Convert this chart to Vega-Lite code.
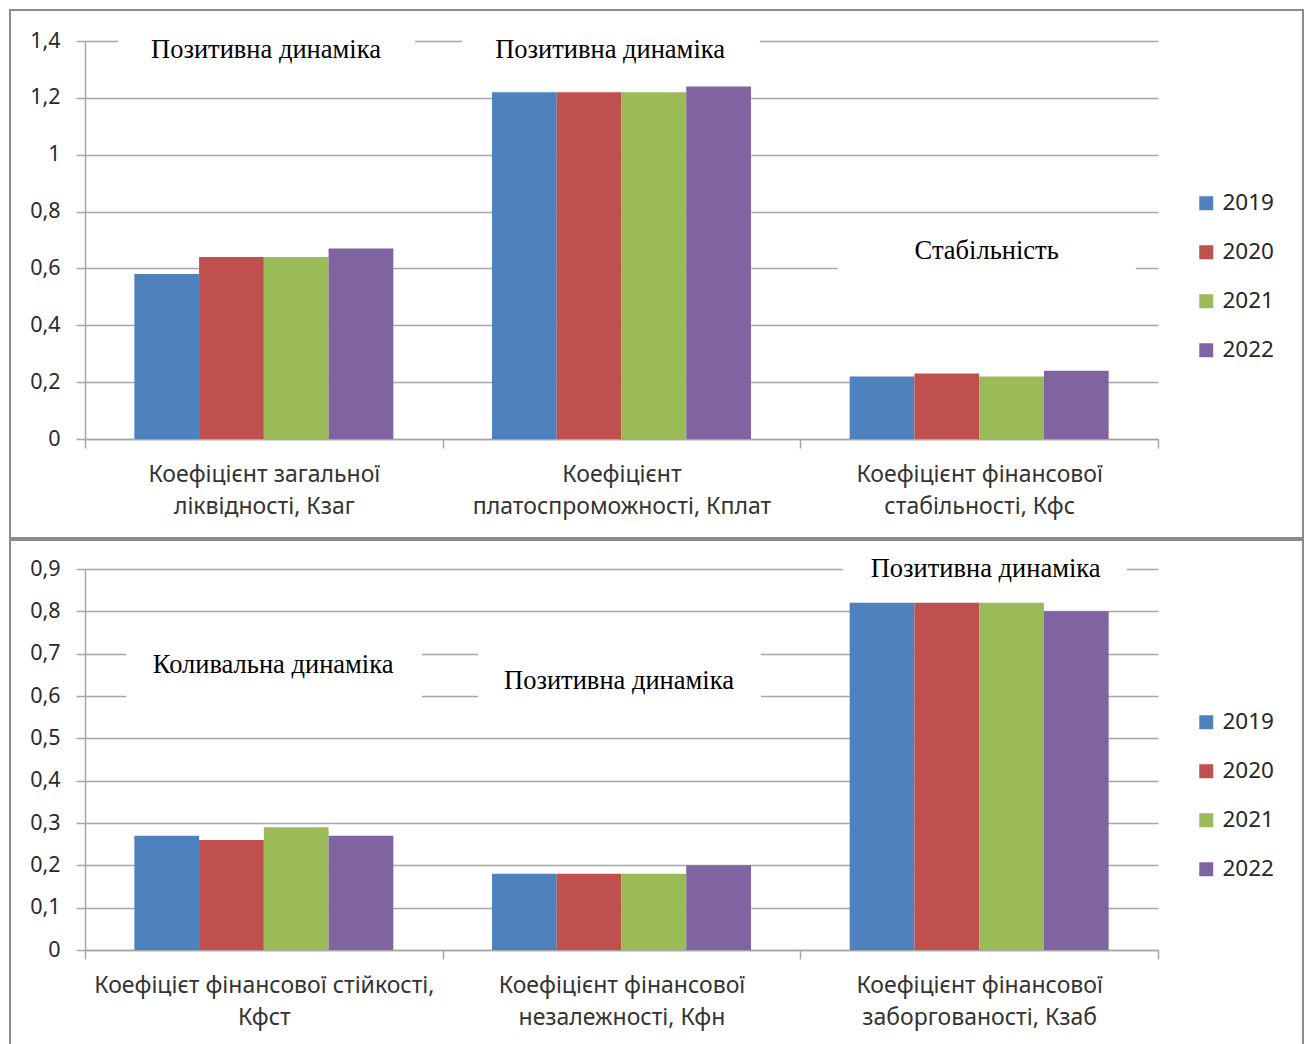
{
  "$schema": "https://vega.github.io/schema/vega-lite/v6.json",
  "background": "white",
  "padding": {"left": 8, "top": 9, "right": 0, "bottom": 0},
  "autosize": {"type": "pad"},
  "spacing": 0,
  "config": {
    "view": {"stroke": null},
    "axis": {
      "domainColor": "#a6a6a6",
      "domainWidth": 1.5,
      "tickColor": "#a6a6a6",
      "tickWidth": 1.5,
      "gridColor": "#a6a6a6",
      "gridWidth": 1.5,
      "labelFont": "Noto Sans",
      "labelColor": "#2b2b2b",
      "labelLimit": 0,
      "title": null
    },
    "legend": {
      "orient": "none",
      "title": null,
      "padding": 0,
      "symbolType": "square",
      "symbolSize": 196,
      "symbolStrokeWidth": 0,
      "labelFont": "Noto Sans",
      "labelFontSize": 22.5,
      "labelColor": "#262626",
      "labelOffset": 5,
      "rowPadding": 26
    }
  },
  "resolve": {"legend": {"color": "independent"}},
  "datasets": {
    "top": [
      {"k": "Коефіцієнт загальної\nліквідності, Кзаг", "year": "2019", "v": 0.58},
      {"k": "Коефіцієнт загальної\nліквідності, Кзаг", "year": "2020", "v": 0.64},
      {"k": "Коефіцієнт загальної\nліквідності, Кзаг", "year": "2021", "v": 0.64},
      {"k": "Коефіцієнт загальної\nліквідності, Кзаг", "year": "2022", "v": 0.67},
      {"k": "Коефіцієнт\nплатоспроможності, Кплат", "year": "2019", "v": 1.22},
      {"k": "Коефіцієнт\nплатоспроможності, Кплат", "year": "2020", "v": 1.22},
      {"k": "Коефіцієнт\nплатоспроможності, Кплат", "year": "2021", "v": 1.22},
      {"k": "Коефіцієнт\nплатоспроможності, Кплат", "year": "2022", "v": 1.24},
      {"k": "Коефіцієнт фінансової\nстабільності, Кфс", "year": "2019", "v": 0.22},
      {"k": "Коефіцієнт фінансової\nстабільності, Кфс", "year": "2020", "v": 0.23},
      {"k": "Коефіцієнт фінансової\nстабільності, Кфс", "year": "2021", "v": 0.22},
      {"k": "Коефіцієнт фінансової\nстабільності, Кфс", "year": "2022", "v": 0.24}
    ],
    "bottom": [
      {"k": "Коефіцієт фінансової стійкості,\nКфст", "year": "2019", "v": 0.27},
      {"k": "Коефіцієт фінансової стійкості,\nКфст", "year": "2020", "v": 0.26},
      {"k": "Коефіцієт фінансової стійкості,\nКфст", "year": "2021", "v": 0.29},
      {"k": "Коефіцієт фінансової стійкості,\nКфст", "year": "2022", "v": 0.27},
      {"k": "Коефіцієнт фінансової\nнезалежності, Кфн", "year": "2019", "v": 0.18},
      {"k": "Коефіцієнт фінансової\nнезалежності, Кфн", "year": "2020", "v": 0.18},
      {"k": "Коефіцієнт фінансової\nнезалежності, Кфн", "year": "2021", "v": 0.18},
      {"k": "Коефіцієнт фінансової\nнезалежності, Кфн", "year": "2022", "v": 0.2},
      {"k": "Коефіцієнт фінансової\nзаборгованості, Кзаб", "year": "2019", "v": 0.82},
      {"k": "Коефіцієнт фінансової\nзаборгованості, Кзаб", "year": "2020", "v": 0.82},
      {"k": "Коефіцієнт фінансової\nзаборгованості, Кзаб", "year": "2021", "v": 0.82},
      {"k": "Коефіцієнт фінансової\nзаборгованості, Кзаб", "year": "2022", "v": 0.8}
    ],
    "notesTop": [
      {"note": "Позитивна динаміка", "x": 0.506, "y": 1.368, "x0": 0.092, "x1": 0.923, "y0": 1.28, "y1": 1.45},
      {"note": "Позитивна динаміка", "x": 1.468, "y": 1.368, "x0": 1.054, "x1": 1.887, "y0": 1.28, "y1": 1.45},
      {"note": "Стабільність", "x": 2.521, "y": 0.661, "x0": 2.105, "x1": 2.938, "y0": 0.489, "y1": 0.753}
    ],
    "notesBottom": [
      {"note": "Коливальна динаміка", "x": 0.526, "y": 0.673, "x0": 0.115, "x1": 0.942, "y0": 0.595, "y1": 0.705},
      {"note": "Позитивна динаміка", "x": 1.493, "y": 0.635, "x0": 1.099, "x1": 1.89, "y0": 0.565, "y1": 0.705},
      {"note": "Позитивна динаміка", "x": 2.518, "y": 0.9, "x0": 2.119, "x1": 2.913, "y0": 0.855, "y1": 0.945}
    ]
  },
  "vconcat": [
    {
      "width": 1073,
      "height": 398,
      "resolve": {"scale": {"x": "independent"}},
      "layer": [
        {
          "data": {"values": [{"panel": "frame"}]},
          "mark": {"type": "rect", "fillOpacity": 0, "stroke": "#8c8c8c", "strokeWidth": 2},
          "encoding": {
            "x": {"datum": -0.2097, "type": "quantitative", "scale": {"domain": [0, 3], "nice": false, "zero": false}, "axis": null},
            "x2": {"datum": 3.4054},
            "y": {"datum": 1.509, "type": "quantitative"},
            "y2": {"datum": -0.348}
          }
        },
        {
          "data": {"name": "top"},
          "mark": {"type": "bar"},
          "encoding": {
            "x": {
              "field": "k", "type": "nominal", "sort": null,
              "scale": {"paddingInner": 0, "paddingOuter": 0},
              "axis": {
                "labelAngle": 0, "labelFontSize": 23, "labelColor": "#333333",
                "labelLineHeight": 32, "labelPadding": 15, "tickBand": "extent",
                "tickSize": 9, "labelExpr": "split(datum.label, '\\n')"
              }
            },
            "xOffset": {"field": "year", "type": "nominal", "scale": {"paddingInner": 0, "paddingOuter": 0.762}},
            "y": {
              "field": "v", "type": "quantitative",
              "scale": {"domain": [0, 1.4], "nice": false},
              "axis": {
                "grid": true,
                "values": [0, 0.2, 0.4, 0.6, 0.8, 1, 1.2, 1.4],
                "labelFontSize": 21.5, "tickSize": 9, "labelPadding": 16,
                "labelExpr": "replace(format(datum.value, '.1~f'), '.', ',')"
              }
            },
            "color": {
              "field": "year", "type": "nominal",
              "scale": {"domain": ["2019", "2020", "2021", "2022"], "range": ["#4f81bd", "#c0504d", "#9bbb59", "#8064a2"]},
              "legend": {"legendX": 1110, "legendY": 151}
            }
          }
        },
        {
          "data": {"name": "notesTop"},
          "mark": {"type": "rect", "fill": "white"},
          "encoding": {
            "x": {"field": "x0", "type": "quantitative", "scale": {"domain": [0, 3], "nice": false, "zero": false}, "axis": null},
            "x2": {"field": "x1"},
            "y": {"field": "y0", "type": "quantitative"},
            "y2": {"field": "y1"}
          }
        },
        {
          "data": {"name": "notesTop"},
          "mark": {"type": "text", "font": "Liberation Serif", "fontSize": 26.5, "color": "#000000", "align": "center", "baseline": "middle"},
          "encoding": {
            "x": {"field": "x", "type": "quantitative", "scale": {"domain": [0, 3], "nice": false, "zero": false}, "axis": null},
            "y": {"field": "y", "type": "quantitative"},
            "text": {"field": "note"}
          }
        }
      ]
    },
    {
      "width": 1073,
      "height": 381,
      "resolve": {"scale": {"x": "independent"}},
      "layer": [
        {
          "data": {"values": [{"panel": "frame"}]},
          "mark": {"type": "rect", "fillOpacity": 0, "stroke": "#8c8c8c", "strokeWidth": 2},
          "encoding": {
            "x": {"datum": -0.2097, "type": "quantitative", "scale": {"domain": [0, 3], "nice": false, "zero": false}, "axis": null},
            "x2": {"datum": 3.4054},
            "y": {"datum": 0.9685, "type": "quantitative"},
            "y2": {"datum": -0.236}
          }
        },
        {
          "data": {"name": "bottom"},
          "mark": {"type": "bar"},
          "encoding": {
            "x": {
              "field": "k", "type": "nominal", "sort": null,
              "scale": {"paddingInner": 0, "paddingOuter": 0},
              "axis": {
                "labelAngle": 0, "labelFontSize": 23, "labelColor": "#333333",
                "labelLineHeight": 32, "labelPadding": 15, "tickBand": "extent",
                "tickSize": 9, "labelExpr": "split(datum.label, '\\n')"
              }
            },
            "xOffset": {"field": "year", "type": "nominal", "scale": {"paddingInner": 0, "paddingOuter": 0.762}},
            "y": {
              "field": "v", "type": "quantitative",
              "scale": {"domain": [0, 0.9], "nice": false},
              "axis": {
                "grid": true,
                "values": [0, 0.1, 0.2, 0.3, 0.4, 0.5, 0.6, 0.7, 0.8, 0.9],
                "labelFontSize": 21.5, "tickSize": 9, "labelPadding": 16,
                "labelExpr": "replace(format(datum.value, '.1~f'), '.', ',')"
              }
            },
            "color": {
              "field": "year", "type": "nominal",
              "scale": {"domain": ["2019", "2020", "2021", "2022"], "range": ["#4f81bd", "#c0504d", "#9bbb59", "#8064a2"]},
              "legend": {"legendX": 1110, "legendY": 142}
            }
          }
        },
        {
          "data": {"name": "notesBottom"},
          "mark": {"type": "rect", "fill": "white"},
          "encoding": {
            "x": {"field": "x0", "type": "quantitative", "scale": {"domain": [0, 3], "nice": false, "zero": false}, "axis": null},
            "x2": {"field": "x1"},
            "y": {"field": "y0", "type": "quantitative"},
            "y2": {"field": "y1"}
          }
        },
        {
          "data": {"name": "notesBottom"},
          "mark": {"type": "text", "font": "Liberation Serif", "fontSize": 26.5, "color": "#000000", "align": "center", "baseline": "middle"},
          "encoding": {
            "x": {"field": "x", "type": "quantitative", "scale": {"domain": [0, 3], "nice": false, "zero": false}, "axis": null},
            "y": {"field": "y", "type": "quantitative"},
            "text": {"field": "note"}
          }
        }
      ]
    }
  ]
}
